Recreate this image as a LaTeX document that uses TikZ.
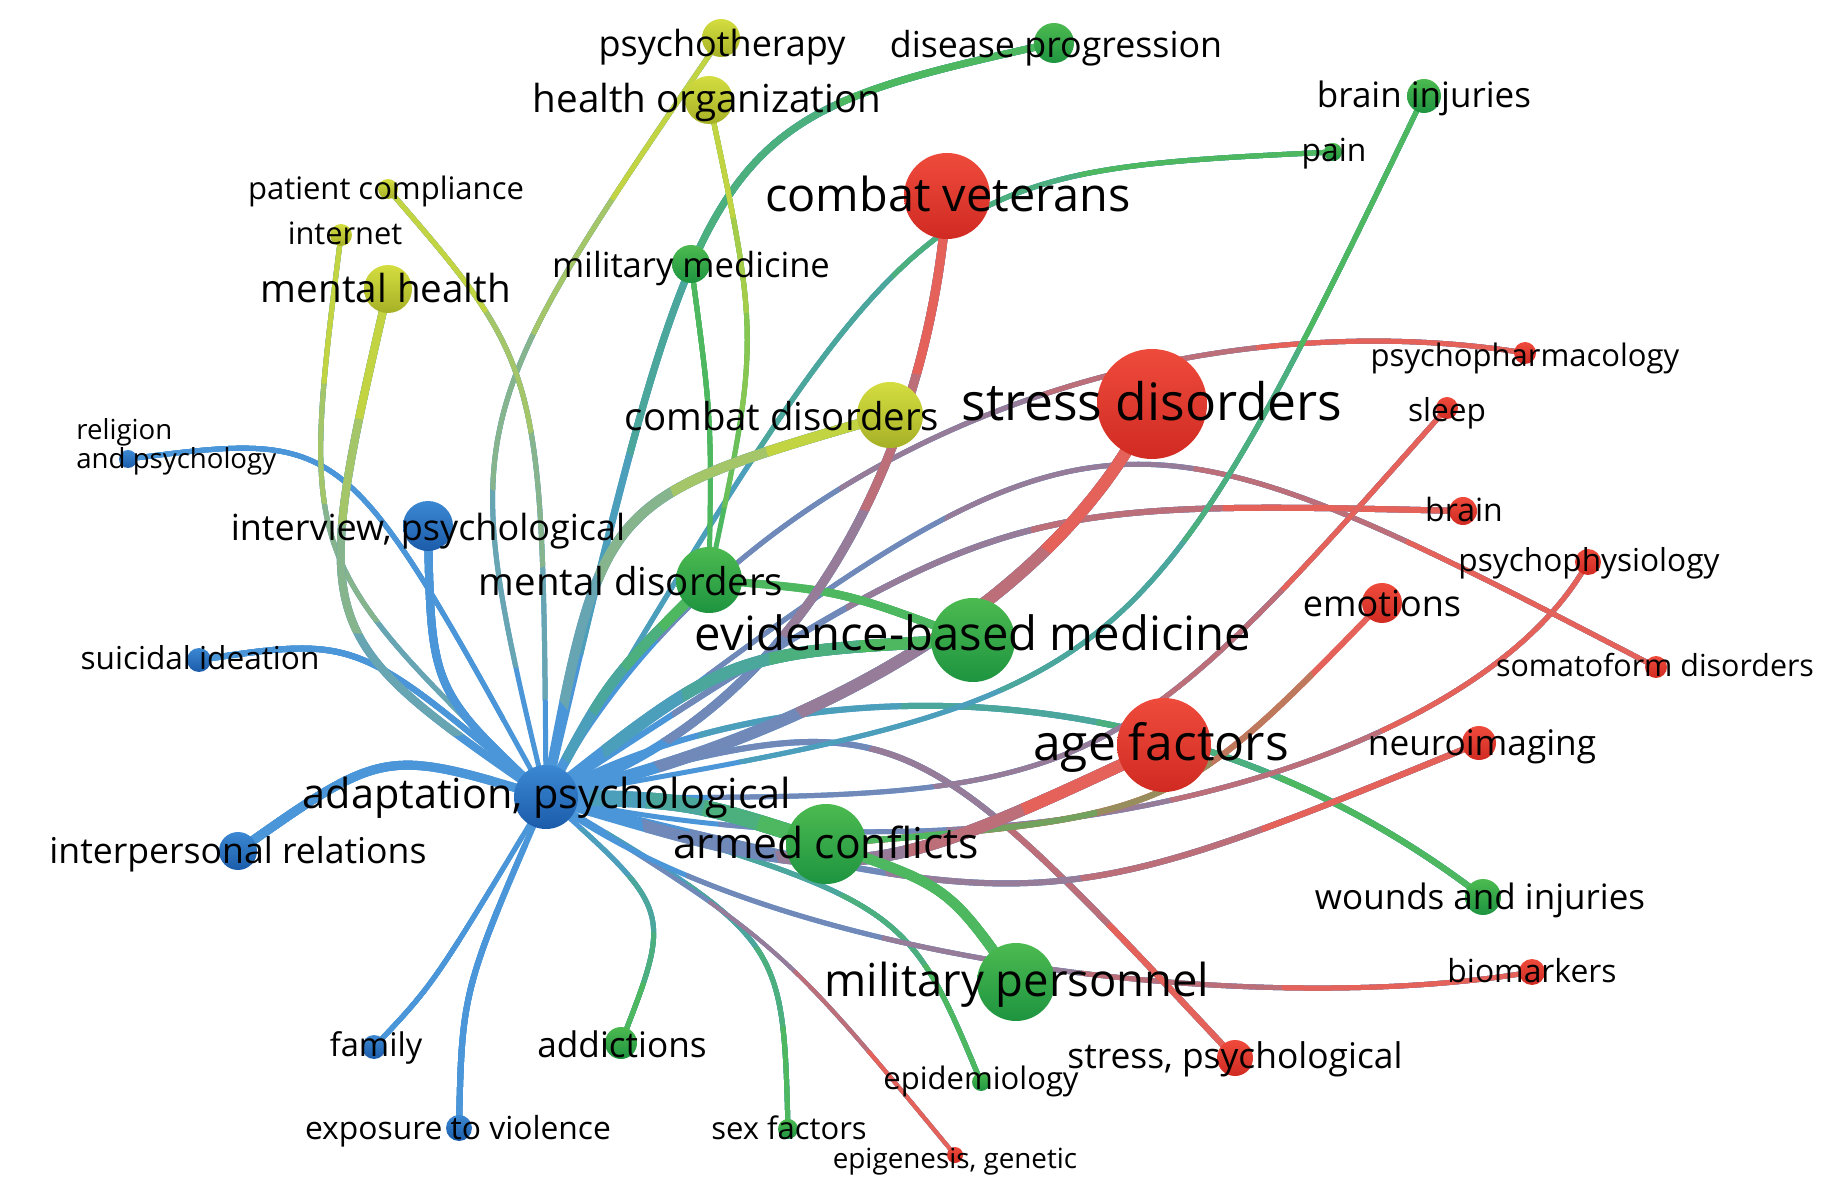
\documentclass[tikz,border=0pt]{standalone}
\usepackage{fontspec}
\setmainfont{Open Sans}
\usetikzlibrary{calc}
\pgfdeclarelayer{back}\pgfdeclarelayer{edges}
\pgfsetlayers{back,edges,main}
\definecolor{rT}{HTML}{EF4B3C}\definecolor{rB}{HTML}{D02A22}
\definecolor{gT}{HTML}{4CBA50}\definecolor{gB}{HTML}{1E9440}
\definecolor{bT}{HTML}{3C88D2}\definecolor{bB}{HTML}{1B5CAA}
\definecolor{yT}{HTML}{D4DE40}\definecolor{yB}{HTML}{A6B026}
\definecolor{eb}{HTML}{4A96D8}\definecolor{eg}{HTML}{4DB860}
\definecolor{er}{HTML}{E4625A}\definecolor{ey}{HTML}{C2D442}
\newcommand\fsz[1]{\fontsize{#1pt}{#1pt}\selectfont}
% edge: from, to, path operation, colour at from, colour at to, width (px)
\newcommand\ed[6]{%
  \draw[line width=#6*0.5pt,line cap=round,#4] (#1.center) #3 (#2.center);
  \foreach \rr/\mm in {0.85/25,0.65/50,0.45/75,0.25/100}{%
    \begin{scope}
      \clip let \p1=($(#1.center)-(#2.center)$), \n1={veclen(\x1,\y1)} in (#2.center) circle[radius=\rr*\n1];
      \draw[line width=#6*0.5pt,line cap=round,#5!\mm!#4] (#1.center) #3 (#2.center);
    \end{scope}}}
\begin{document}
\begin{tikzpicture}[x=0.5pt,y=-0.5pt,
  nd/.style={circle,inner sep=0pt,draw=none},
  rn/.style={nd,top color=rT,bottom color=rB,minimum size=#1pt},
  gn/.style={nd,top color=gT,bottom color=gB,minimum size=#1pt},
  bn/.style={nd,top color=bT,bottom color=bB,minimum size=#1pt},
  yn/.style={nd,top color=yT,bottom color=yB,minimum size=#1pt},
  lab/.style={inner sep=0pt,anchor=mid,text=black,font=\fsz{#1},yshift={-0.19*#1pt}}]
\useasboundingbox (0,0) rectangle (1844,1203);
\begin{pgfonlayer}{back}
\fill[white] (0,0) rectangle (1844,1203);
\end{pgfonlayer}
% nodes
\node[bn=32] (A) at (546,797) {};
\node[bn=19] (IR) at (238,851) {};
\node[bn=12] (SI) at (199,660) {};
\node[bn=9] (RP) at (128,459) {};
\node[bn=25] (IP) at (428,526) {};
\node[bn=12] (FA) at (374,1047) {};
\node[bn=13] (EV) at (459,1128) {};
\node[gn=16] (AD) at (621,1043) {};
\node[gn=10] (SF) at (788,1129) {};
\node[rn=8] (EG) at (955,1155) {};
\node[gn=9] (EP) at (981,1082) {};
\node[rn=18] (SP) at (1235,1058) {};
\node[gn=39] (MP) at (1016,982) {};
\node[rn=13] (BM) at (1532,972) {};
\node[gn=18] (WI) at (1483,897) {};
\node[gn=40] (AC) at (826,844) {};
\node[rn=47] (AF) at (1164,745) {};
\node[rn=17] (NI) at (1479,743) {};
\node[gn=42] (EBM) at (973,640) {};
\node[rn=20] (EM) at (1382,603) {};
\node[rn=11] (SDf) at (1656,667) {};
\node[rn=13] (PPh) at (1588,562) {};
\node[rn=14] (BR) at (1463,511) {};
\node[rn=11] (SL) at (1447,408) {};
\node[rn=11] (PPH) at (1525,353) {};
\node[rn=55] (STD) at (1152,404) {};
\node[yn=33] (CD) at (890,415) {};
\node[gn=33] (MD) at (709,580) {};
\node[gn=19] (MM) at (691,264) {};
\node[rn=43] (CV) at (947,196) {};
\node[yn=24] (MH) at (388,289) {};
\node[yn=11] (IN) at (341,235) {};
\node[yn=10] (PC) at (388,189) {};
\node[yn=24] (HO) at (709,100) {};
\node[yn=19] (PT) at (721,38) {};
\node[gn=20] (DP) at (1054,43) {};
\node[gn=17] (BI) at (1424,96) {};
\node[gn=9] (PA) at (1333,152) {};
% edges
\begin{pgfonlayer}{edges}
\ed{A}{RP}{.. controls (345,431) ..}{eb}{eb}{5}
\ed{A}{SI}{.. controls (357,636) ..}{eb}{eb}{6}
\ed{A}{FA}{.. controls (434,984) ..}{eb}{eb}{5}
\ed{A}{EV}{.. controls (462,990) ..}{eb}{eb}{6}
\ed{A}{AD}{.. controls (673,910) ..}{eb}{eg}{5}
\ed{A}{SF}{.. controls (783,938) ..}{eb}{eg}{5}
\ed{A}{EG}{.. controls (779,942) ..}{eb}{er}{4}
\ed{A}{EP}{.. controls (906,902) ..}{eb}{eg}{5}
\ed{A}{BM}{.. controls (760,960) and (1250,1020) ..}{eb}{er}{5}
\ed{A}{SP}{.. controls (900,700) ..}{eb}{er}{6}
\ed{A}{WI}{.. controls (750,680) and (1150,640) ..}{eb}{eg}{6}
\ed{A}{NI}{.. controls (1047,920) ..}{eb}{er}{6}
\ed{A}{PPh}{.. controls (1020,900) and (1480,760) ..}{eb}{er}{5}
\ed{A}{SDf}{.. controls (1099,378) ..}{eb}{er}{5}
\ed{A}{BR}{.. controls (1000,500) ..}{eb}{er}{6}
\ed{A}{SL}{.. controls (1100,800) ..}{eb}{er}{5}
\ed{A}{PPH}{.. controls (750,420) and (1200,300) ..}{eb}{er}{5}
\ed{A}{BI}{.. controls (1135,694) ..}{eb}{eg}{5}
\ed{A}{PA}{.. controls (919,172) ..}{eb}{eg}{5}
\ed{A}{DP}{.. controls (705,121) ..}{eb}{eg}{7}
\ed{MD}{MM}{.. controls (712,420) ..}{eg}{eg}{5}
\ed{MD}{HO}{.. controls (760,340) ..}{eg}{ey}{5}
\ed{A}{PT}{.. controls (457,424) ..}{eb}{ey}{5}
\ed{A}{PC}{.. controls (543,368) ..}{eb}{ey}{5}
\ed{A}{IN}{.. controls (300,560) ..}{eb}{ey}{5}
\ed{A}{MH}{.. controls (309,633) ..}{eb}{ey}{8}
\ed{A}{IP}{.. controls (431,690) ..}{eb}{eb}{8}
\ed{A}{IR}{.. controls (384,748) ..}{eb}{eb}{9}
\ed{EM}{AC}{.. controls (1175,816) ..}{er}{eg}{6}
\ed{MD}{EBM}{.. controls (840,590) ..}{eg}{eg}{8}
\ed{A}{CD}{.. controls (602,498) ..}{eb}{ey}{10}
\ed{A}{CV}{.. controls (800,720) and (930,450) ..}{eb}{er}{9}
\ed{A}{MD}{.. controls (608,680) ..}{eb}{eg}{10}
\ed{A}{STD}{.. controls (880,720) and (1080,560) ..}{eb}{er}{12}
\ed{A}{EBM}{.. controls (730,652) ..}{eb}{eg}{12}
\ed{A}{AF}{.. controls (856,889) ..}{eb}{er}{12}
\ed{AC}{MP}{.. controls (948,886) ..}{eg}{eg}{10}
\ed{A}{AC}{.. controls (690,800) ..}{eb}{eg}{16}
\end{pgfonlayer}
% labels
\node[lab=20.7] (lA) at (547,795) {adaptation, psychological};
\node[lab=17.8] (lIR) at (238,851) {interpersonal relations};
\node[lab=15.8] (lSI) at (200,658) {suicidal ideation};
\node[inner sep=0pt,anchor=west,align=left,font=\fontsize{13.8pt}{13.5pt}\selectfont] (lRP) at (76,447) {religion\\and psychology};
\node[lab=18] (lIP) at (428,528) {interview, psychological};
\node[lab=19.2] (lMD) at (631,583) {mental disorders};
\node[lab=19.2] (lCD) at (782,418) {combat disorders};
\node[lab=25.8] (lSTD) at (1152,405) {stress disorders};
\node[lab=23.4] (lCV) at (948,197) {combat veterans};
\node[lab=17.3] (lMM) at (691,266) {military medicine};
\node[lab=19.3] (lHO) at (707,100) {health organization};
\node[lab=18] (lPT) at (722,44) {psychotherapy};
\node[lab=17.9] (lDP) at (1056,45) {disease progression};
\node[lab=17.5] (lBI) at (1424,96) {brain injuries};
\node[lab=15.9] (lPA) at (1334,150) {pain};
\node[lab=19.3] (lMH) at (386,290) {mental health};
\node[lab=15.4] (lIN) at (345,233) {internet};
\node[lab=15.5] (lPC) at (386,188) {patient compliance};
\node[lab=15.5] (lPPH) at (1525,355) {psychopharmacology};
\node[lab=15.8] (lSL) at (1447,410) {sleep};
\node[lab=16] (lBR) at (1464,510) {brain};
\node[lab=15.8] (lPPh) at (1589,560) {psychophysiology};
\node[lab=18] (lEM) at (1382,604) {emotions};
\node[lab=15.2] (lSDf) at (1655,665) {somatoform disorders};
\node[lab=23.6] (lEBM) at (973,636) {evidence-based medicine};
\node[lab=24.9] (lAF) at (1161,746) {age factors};
\node[lab=17.6] (lNI) at (1482,743) {neuroimaging};
\node[lab=21.3] (lAC) at (826,845) {armed conflicts};
\node[lab=17.5] (lWI) at (1480,897) {wounds and injuries};
\node[lab=22.7] (lMP) at (1017,983) {military personnel};
\node[lab=15.9] (lBM) at (1532,971) {biomarkers};
\node[lab=17.7] (lSP) at (1235,1056) {stress, psychological};
\node[lab=15.5] (lEP) at (981,1078) {epidemiology};
\node[lab=17.6] (lAD) at (622,1045) {addictions};
\node[lab=16.3] (lFA) at (376,1045) {family};
\node[lab=15.9] (lEV) at (458,1128) {exposure to violence};
\node[lab=15.5] (lSF) at (789,1128) {sex factors};
\node[lab=13.9] (lEG) at (955,1158) {epigenesis, genetic};
\end{tikzpicture}
\end{document}
